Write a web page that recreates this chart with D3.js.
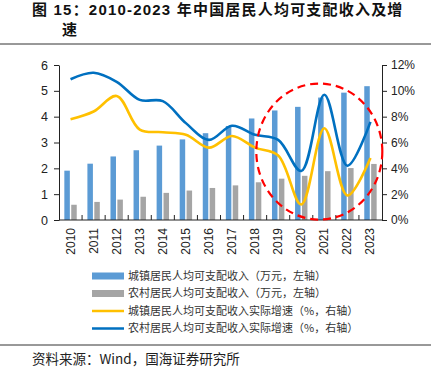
<!DOCTYPE html>
<html>
<head>
<meta charset="utf-8">
<script src="https://cdn.jsdelivr.net/npm/d3@7"></script>
<style>
  body { margin: 0; background: #fff; }
  svg { font-family: "Liberation Sans", Arial, "Noto Sans CJK SC", sans-serif; }
</style>
</head>
<body>
<div id="chart"></div>
<script>
// datos
const years = ["2010","2011","2012","2013","2014","2015","2016","2017","2018","2019","2020","2021","2022","2023"];
const urbanIncome = [1.91, 2.18, 2.46, 2.70, 2.88, 3.12, 3.36, 3.64, 3.93, 4.24, 4.38, 4.74, 4.93, 5.18];
const ruralIncome = [0.59, 0.70, 0.79, 0.90, 1.05, 1.14, 1.24, 1.34, 1.46, 1.60, 1.71, 1.89, 2.01, 2.17];
const urbanGrowth = [7.8, 8.4, 9.6, 7.0, 6.8, 6.6, 5.6, 6.5, 5.6, 5.0, 1.2, 7.1, 1.9, 4.8];
const ruralGrowth = [10.9, 11.4, 10.7, 9.3, 9.2, 7.5, 6.2, 7.3, 6.6, 6.2, 3.8, 9.7, 4.2, 7.6];
const leftTicks = [0, 1, 2, 3, 4, 5, 6];
const rightTicks = [0, 2, 4, 6, 8, 10, 12];
const legendItems = [
  { label: "城镇居民人均可支配收入（万元，左轴）", color: "#5b9bd5", type: "bar" },
  { label: "农村居民人均可支配收入（万元，左轴）", color: "#a5a5a5", type: "bar" },
  { label: "城镇居民人均可支配收入实际增速（%，右轴）", color: "#ffc000", type: "line" },
  { label: "农村居民人均可支配收入实际增速（%，右轴）", color: "#0070c0", type: "line" }
];

const width = 434;
const height = 387;
const marginLeft = 59;
const plotRight = 382;
const plotTop = 65;
const plotBottom = 220;

const svg = d3.create("svg")
  .attr("width", width)
  .attr("height", height)
  .attr("viewBox", [0, 0, width, height]);

d3.select("#chart").append(() => svg.node());

// título
const title = svg.append("text")
  .attr("font-family", "'Liberation Sans', 'Noto Sans CJK SC', sans-serif")
  .attr("font-weight", "bold")
  .attr("font-size", 15)
  .attr("letter-spacing", 1.2)
  .attr("fill", "#111");
title.append("tspan").attr("x", 32).attr("y", 15).text("图 15：2010-2023 年中国居民人均可支配收入及增");
title.append("tspan").attr("x", 62).attr("y", 35).text("速");

svg.append("line")
  .attr("x1", 0).attr("x2", 431)
  .attr("y1", 44).attr("y2", 44)
  .attr("stroke", "#333").attr("stroke-width", 1);

// escalas
const x = d3.scaleBand()
  .domain(years)
  .range([marginLeft, plotRight]);

const y = d3.scaleLinear()
  .domain([0, 6])
  .range([plotBottom, plotTop]);

const y2 = d3.scaleLinear()
  .domain([0, 12])
  .range([plotBottom, plotTop]);

const barW = 5.5;

// barras
svg.append("g")
  .selectAll("rect")
  .data(years)
  .join("rect")
  .attr("x", (d) => x(d) + x.bandwidth() / 2 - barW - 0.7)
  .attr("y", (d, i) => y(urbanIncome[i]))
  .attr("width", barW)
  .attr("height", (d, i) => y(0) - y(urbanIncome[i]))
  .attr("fill", "#5b9bd5");

svg.append("g")
  .selectAll("rect")
  .data(years)
  .join("rect")
  .attr("x", (d) => x(d) + x.bandwidth() / 2 + 0.7)
  .attr("y", (d, i) => y(ruralIncome[i]))
  .attr("width", barW)
  .attr("height", (d, i) => y(0) - y(ruralIncome[i]))
  .attr("fill", "#a5a5a5");

// líneas
const line = d3.line()
  .x((d, i) => x(years[i]) + x.bandwidth() / 2)
  .y((d) => y2(d))
  .curve(d3.curveCatmullRom.alpha(0.5));

svg.append("path")
  .attr("d", line(urbanGrowth))
  .attr("fill", "none")
  .attr("stroke", "#ffc000")
  .attr("stroke-width", 2.6);

svg.append("path")
  .attr("d", line(ruralGrowth))
  .attr("fill", "none")
  .attr("stroke", "#0070c0")
  .attr("stroke-width", 2.6);

// eje X
const xAxis = svg.append("g")
  .attr("transform", `translate(0,${plotBottom})`);
xAxis.append("line")
  .attr("x1", marginLeft).attr("x2", plotRight)
  .attr("stroke", "#222");
xAxis.selectAll(".sep")
  .data(years.slice(1))
  .join("line")
  .attr("x1", (d) => x(d)).attr("x2", (d) => x(d))
  .attr("y1", 0).attr("y2", -5)
  .attr("stroke", "#222");
xAxis.selectAll("text")
  .data(years)
  .join("text")
  .attr("transform", (d) => `translate(${x(d) + x.bandwidth() / 2 + 4},8) rotate(-90)`)
  .attr("text-anchor", "end")
  .attr("font-size", 12)
  .attr("fill", "#222")
  .text((d) => d);

// eje Y izquierdo
svg.append("g")
  .attr("transform", `translate(${marginLeft},0)`)
  .call(d3.axisLeft(y).tickValues(leftTicks).tickFormat(d3.format("d")).tickSize(5).tickSizeOuter(0).tickPadding(6))
  .call((g) => g.select(".domain").attr("stroke", "#222"))
  .call((g) => g.selectAll("line").attr("stroke", "#222"))
  .call((g) => g.selectAll("text").attr("font-size", 12.5).attr("fill", "#222").attr("font-family", "'Liberation Sans', sans-serif"));

// eje Y derecho
svg.append("g")
  .attr("transform", `translate(${plotRight},0)`)
  .call(d3.axisRight(y2).tickValues(rightTicks).tickFormat((d) => d + "%").tickSize(5).tickSizeOuter(0).tickPadding(4))
  .call((g) => g.select(".domain").attr("stroke", "#222"))
  .call((g) => g.selectAll("line").attr("stroke", "#222"))
  .call((g) => g.selectAll("text").attr("font-size", 12).attr("fill", "#222").attr("font-family", "'Liberation Sans', sans-serif"));

// círculo rojo
svg.append("ellipse")
  .attr("cx", x("2021") + x.bandwidth() / 2 - 5)
  .attr("cy", y2(5.3))
  .attr("rx", 63)
  .attr("ry", 68)
  .attr("fill", "none")
  .attr("stroke", "#ff0000")
  .attr("stroke-width", 2.2)
  .attr("stroke-dasharray", "8,5");

// leyenda
const legend = svg.append("g")
  .attr("transform", "translate(92,276)");
const rowH = 17.5;
legend.selectAll("g")
  .data(legendItems)
  .join("g")
  .attr("transform", (d, i) => `translate(0,${i * rowH})`)
  .each(function (d) {
    const g = d3.select(this);
    if (d.type === "bar") {
      g.append("rect").attr("x", 0).attr("y", -3.5).attr("width", 32).attr("height", 7).attr("fill", d.color);
    } else {
      g.append("line").attr("x1", 0).attr("x2", 32).attr("stroke", d.color).attr("stroke-width", 2.5);
    }
    g.append("text")
      .attr("x", 36)
      .attr("dy", "0.35em")
      .attr("font-size", 11)
      .attr("fill", "#333")
      .attr("font-family", "'Noto Sans CJK SC', sans-serif")
      .text(d.label);
  });

svg.append("line")
  .attr("x1", 0).attr("x2", 431)
  .attr("y1", 345).attr("y2", 345)
  .attr("stroke", "#333").attr("stroke-width", 1);

svg.append("text")
  .attr("x", 32)
  .attr("y", 364)
  .attr("font-size", 13.5)
  .attr("fill", "#222")
  .attr("font-family", "'Noto Sans CJK SC', sans-serif")
  .text("资料来源：Wind，国海证券研究所");
</script>
</body>
</html>
